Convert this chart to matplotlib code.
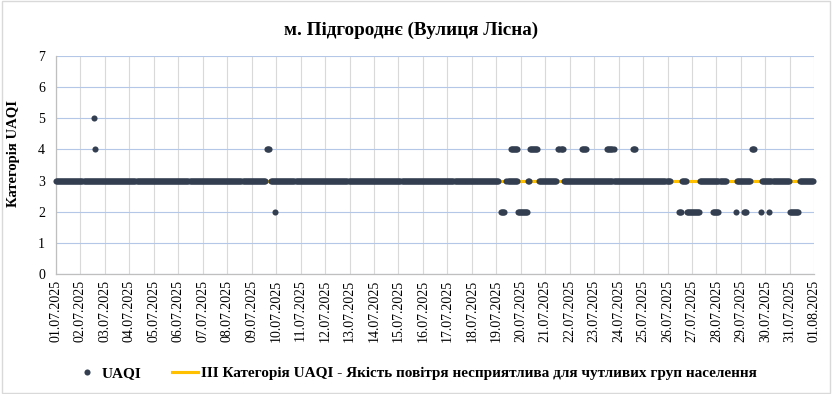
import numpy as np
import matplotlib
matplotlib.use("Agg")
import matplotlib.pyplot as plt
from matplotlib.patches import Rectangle

plt.rcParams['font.family'] = ['Liberation Serif', 'DejaVu Serif']

# дані: години від 01.07.2025 00:00, відрізки (початок, кінець) для кожного рівня UAQI
runs_3 = [(0, 205), (211, 434), (442, 452), (463, 464), (474, 491), (498, 602),
          (614, 618), (632, 657), (668, 681), (693, 719), (730, 743)]
runs_4 = [(38, 38), (207, 209), (446, 452), (465, 472), (493, 497), (516, 520),
          (541, 547), (566, 568), (683, 685)]
runs_5 = [(37, 37)]
runs_2 = [(215, 215), (437, 440), (453, 462), (611, 613), (619, 631), (645, 650),
          (667, 667), (675, 677), (692, 692), (700, 700), (720, 728)]

category_iii = 3
period_hours = [0, 744]

day_labels = ["01.07.2025", "02.07.2025", "03.07.2025", "04.07.2025", "05.07.2025",
              "06.07.2025", "07.07.2025", "08.07.2025", "09.07.2025", "10.07.2025",
              "11.07.2025", "12.07.2025", "13.07.2025", "14.07.2025", "15.07.2025",
              "16.07.2025", "17.07.2025", "18.07.2025", "19.07.2025", "20.07.2025",
              "21.07.2025", "22.07.2025", "23.07.2025", "24.07.2025", "25.07.2025",
              "26.07.2025", "27.07.2025", "28.07.2025", "29.07.2025", "30.07.2025",
              "31.07.2025", "01.08.2025"]

hours = []
values = []
for level, runs in [(3, runs_3), (4, runs_4), (5, runs_5), (2, runs_2)]:
    for a, b in runs:
        for h in range(a, b + 1):
            hours.append(h)
            values.append(level)

fig = plt.figure(figsize=(8.32, 3.94), dpi=100)
ax = fig.add_axes([56 / 832, 120 / 394, 758.3 / 832, 218 / 394])

ax.plot(period_hours, [category_iii, category_iii], color="#ffc000", lw=2.25,
        zorder=2, label="ІІІ Категорія UAQI - Якість повітря несприятлива для чутливих груп населення")
ax.plot(hours, values, ls="none", marker="o", ms=4.4, mew=0, color="#333f50",
        zorder=3, clip_on=False, label="UAQI")

ax.set_xlim(0, 744)
ax.set_ylim(0, 7)
ax.set_yticks(range(0, 8))
ax.set_xticks(range(0, 745, 24))
ax.set_xticklabels(day_labels, rotation=90, fontsize=10)
ax.tick_params(axis="y", labelsize=10, length=0, pad=8)
ax.tick_params(axis="x", length=0, pad=4)

ax.grid(axis="y", color="#b4c7e7", lw=0.8, zorder=0)
ax.grid(axis="x", color="#d9d9d9", lw=0.8, zorder=0)
ax.set_axisbelow(True)
for s in ["top", "right"]:
    ax.spines[s].set_visible(False)
for s in ["left", "bottom"]:
    ax.spines[s].set_color("#bfbfbf")
    ax.spines[s].set_linewidth(0.9)

ax.set_ylabel("Категорія UAQI", fontsize=10.5, fontweight="bold")
ax.yaxis.set_label_coords(-0.047, 0.553)

fig.text(0.494, 0.924, "м. Підгороднє (Вулиця Лісна)", ha="center", va="center",
         fontsize=13.8, fontweight="bold")

handles, labels = ax.get_legend_handles_labels()
fig.legend(handles[::-1], labels[::-1], loc="center", bbox_to_anchor=(0.499, 0.053),
           ncol=2, frameon=False, prop={"weight": "bold", "size": 11},
           handlelength=1.7, handletextpad=0.15, columnspacing=2.0)

fig.patches.append(Rectangle((0.002, 0.003), 0.996, 0.994, transform=fig.transFigure,
                             fill=False, edgecolor="#d9d9d9", lw=1))

fig.savefig("out.png", dpi=100)
